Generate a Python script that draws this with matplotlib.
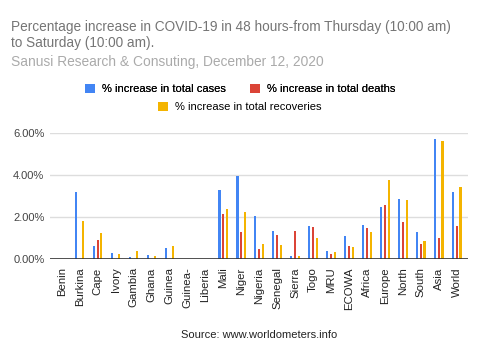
import matplotlib.pyplot as plt
import numpy as np

plt.rcParams['font.family'] = ['Liberation Sans', 'DejaVu Sans']

# Data (percent)
categories = ['Benin', 'Burkina', 'Cape', 'Ivory', 'Gambia', 'Ghana', 'Guinea',
              'Guinea-', 'Liberia', 'Mali', 'Niger', 'Nigeria', 'Senegal', 'Sierra',
              'Togo', 'MRU', 'ECOWA', 'Africa', 'Europe', 'North', 'South', 'Asia', 'World']
cases = [0, 3.16, 0.62, 0.29, 0.08, 0.21, 0.52, 0, 0, 3.29, 3.94, 2.03, 1.35, 0.14,
         1.57, 0.37, 1.11, 1.62, 2.46, 2.83, 1.26, 5.69, 3.16]
deaths = [0, 0, 0.89, 0, 0, 0, 0, 0, 0, 2.16, 1.26, 0.46, 1.16, 1.35,
          1.54, 0.22, 0.60, 1.45, 2.56, 1.76, 0.70, 0.99, 1.57]
recoveries = [0, 1.81, 1.22, 0.26, 0.38, 0.16, 0.62, 0, 0, 2.37, 2.22, 0.70, 0.65, 0.14,
              0.99, 0.33, 0.57, 1.30, 3.76, 2.78, 0.84, 5.60, 3.43]
yticks = [0, 2, 4, 6]

blue, red, yellow = '#4285F4', '#DB4437', '#F4B400'

fig = plt.figure(figsize=(4.8, 3.6), dpi=100)
ax = fig.add_axes([0.1042, 0.2806, 0.8708, 0.3508])

x = np.arange(len(categories))
w = 0.12
b1 = ax.bar(x - 0.21, cases, w, color=blue, linewidth=0, label='% increase in total cases')
b2 = ax.bar(x, deaths, w, color=red, linewidth=0, label='% increase in total deaths')
b3 = ax.bar(x + 0.21, recoveries, w, color=yellow, linewidth=0, label='% increase in total recoveries')

ax.set_xlim(-0.65, len(categories) - 1 + 0.63)
ax.set_ylim(0, 6)
ax.set_yticks(yticks)
ax.set_yticklabels(['%.2f%%' % v for v in yticks], fontsize=8, color='#444444')
ax.set_xticks(x)
ax.set_xticklabels(categories, rotation=90, fontsize=8.2, color='#222222')
ax.tick_params(length=0, pad=6)
ax.tick_params(axis='y', pad=4)
for s in ax.spines.values():
    s.set_visible(False)
ax.grid(axis='y', color='#dddddd', linewidth=1)
ax.set_axisbelow(True)
ax.axhline(0, color='#333333', linewidth=1.2)

fig.text(11 / 480, 1 - 27 / 360, 'Percentage increase in COVID-19 in 48 hours-from Thursday (10:00 am)',
         fontsize=9.8, color='#757575', va='center')
fig.text(11 / 480, 1 - 43 / 360, 'to Saturday (10:00 am).',
         fontsize=9.8, color='#757575', va='center')
fig.text(11 / 480, 1 - 62 / 360, 'Sanusi Research & Consuting, December 12, 2020',
         fontsize=9.9, color='#aaaaaa', va='center')

leg1 = fig.legend(handles=[b1, b2], loc='center', bbox_to_anchor=(0.5, 1 - 89 / 360),
                  ncol=2, frameon=False, fontsize=8, handlelength=0.9, handleheight=0.9,
                  handletextpad=0.6, columnspacing=2.2, borderpad=0)
fig.legend(handles=[b3], loc='center', bbox_to_anchor=(0.5, 1 - 107 / 360),
           frameon=False, fontsize=8, handlelength=0.9, handleheight=0.9,
           handletextpad=0.6, borderpad=0)
fig.add_artist(leg1)

fig.text(259 / 480, 1 - 335 / 360, 'Source: www.worldometers.info', fontsize=8,
         color='#222222', ha='center', va='center')

fig.savefig('out.png', dpi=100)
